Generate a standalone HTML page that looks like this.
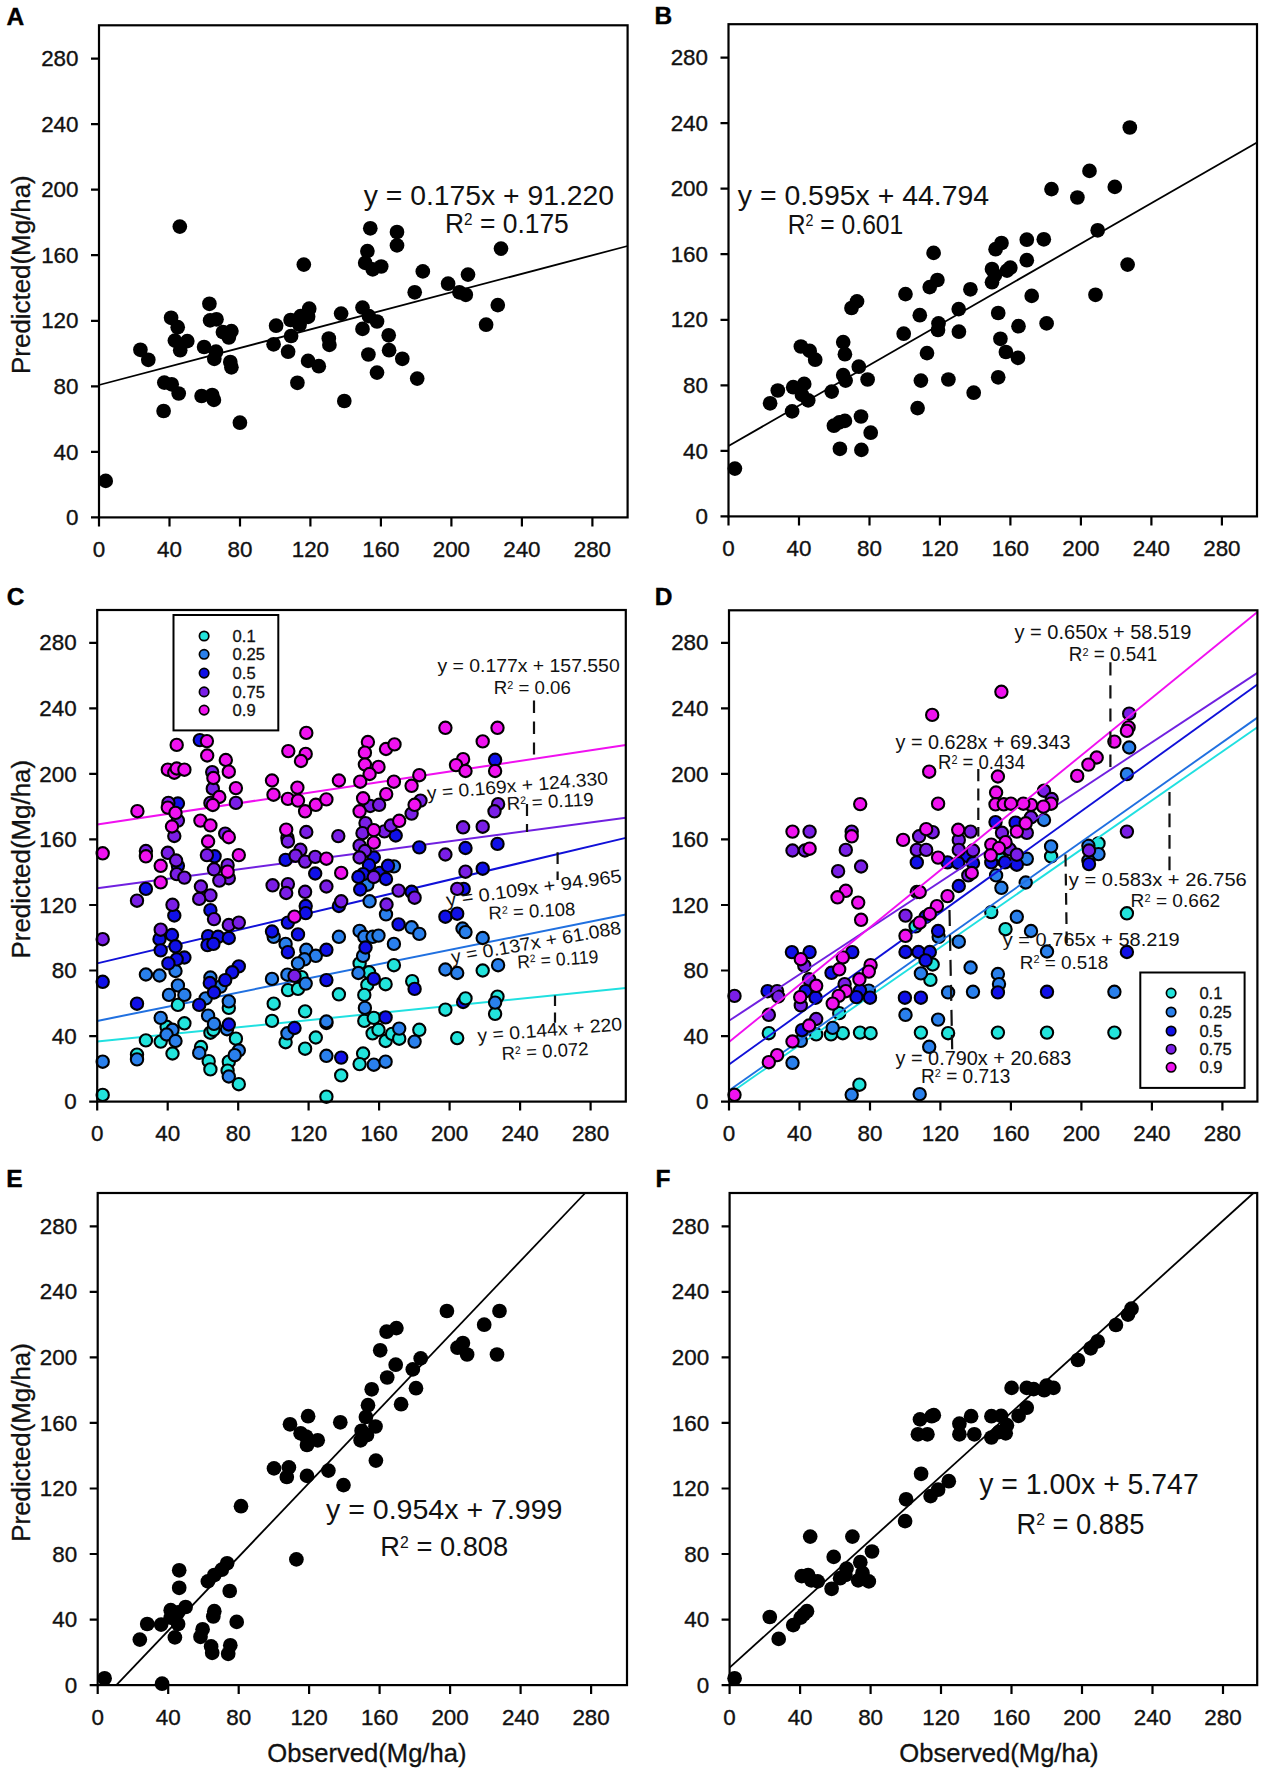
<!DOCTYPE html>
<html><head><meta charset="utf-8"><title>Figure</title>
<style>html,body{margin:0;padding:0;background:#fff;width:1267px;height:1772px;overflow:hidden}svg{display:block}</style>
</head><body>
<svg width="1267" height="1772" viewBox="0 0 1267 1772" font-family='"Liberation Sans", sans-serif'>
<rect width="1267" height="1772" fill="#fff"/>
<text x="6.5" y="24.5" font-size="24.5" font-weight="bold" fill="#000" stroke="#000" stroke-width="0.4">A</text>
<text x="654.5" y="24.3" font-size="24.5" font-weight="bold" fill="#000" stroke="#000" stroke-width="0.4">B</text>
<text x="6.8" y="605" font-size="24.5" font-weight="bold" fill="#000" stroke="#000" stroke-width="0.4">C</text>
<text x="654.8" y="604.5" font-size="24.5" font-weight="bold" fill="#000" stroke="#000" stroke-width="0.4">D</text>
<text x="6.3" y="1187" font-size="24.5" font-weight="bold" fill="#000" stroke="#000" stroke-width="0.4">E</text>
<text x="655.5" y="1187" font-size="24.5" font-weight="bold" fill="#000" stroke="#000" stroke-width="0.4">F</text>
<text x="0" y="0" font-size="25.9" fill="#111" stroke="#111" stroke-width="0.3" text-anchor="middle" transform="translate(30.4 274.6) rotate(-90)">Predicted(Mg/ha)</text>
<text x="0" y="0" font-size="25.9" fill="#111" stroke="#111" stroke-width="0.3" text-anchor="middle" transform="translate(30.4 859.2) rotate(-90)">Predicted(Mg/ha)</text>
<text x="0" y="0" font-size="25.9" fill="#111" stroke="#111" stroke-width="0.3" text-anchor="middle" transform="translate(30.4 1442.4) rotate(-90)">Predicted(Mg/ha)</text>
<text x="366.9" y="1762.3" font-size="25.6" fill="#111" stroke="#111" stroke-width="0.3" text-anchor="middle">Observed(Mg/ha)</text>
<text x="998.9" y="1762.3" font-size="25.6" fill="#111" stroke="#111" stroke-width="0.3" text-anchor="middle">Observed(Mg/ha)</text>
<line x1="99" y1="385" x2="627.6" y2="246" stroke="#000" stroke-width="1.8"/>
<g fill="#000"><circle cx="179.8" cy="226.6" r="7.35"/><circle cx="303.8" cy="264.6" r="7.35"/><circle cx="209.4" cy="303.8" r="7.35"/><circle cx="171.1" cy="317.8" r="7.35"/><circle cx="177.7" cy="327.2" r="7.35"/><circle cx="210.1" cy="320.4" r="7.35"/><circle cx="216.5" cy="319.3" r="7.35"/><circle cx="222.9" cy="332.1" r="7.35"/><circle cx="231.4" cy="331.1" r="7.35"/><circle cx="228.8" cy="337.5" r="7.35"/><circle cx="140.4" cy="349.8" r="7.35"/><circle cx="148.3" cy="359.8" r="7.35"/><circle cx="174.9" cy="340.6" r="7.35"/><circle cx="187.3" cy="341.1" r="7.35"/><circle cx="180.2" cy="350.2" r="7.35"/><circle cx="204.1" cy="347" r="7.35"/><circle cx="216" cy="351.7" r="7.35"/><circle cx="214.3" cy="358.8" r="7.35"/><circle cx="230.3" cy="362" r="7.35"/><circle cx="231.4" cy="367.3" r="7.35"/><circle cx="276.1" cy="325.7" r="7.35"/><circle cx="290.6" cy="320" r="7.35"/><circle cx="300.6" cy="316.1" r="7.35"/><circle cx="309.2" cy="308.7" r="7.35"/><circle cx="308.1" cy="316.8" r="7.35"/><circle cx="299.6" cy="324.7" r="7.35"/><circle cx="291.1" cy="336" r="7.35"/><circle cx="273.6" cy="344.3" r="7.35"/><circle cx="288.1" cy="351.7" r="7.35"/><circle cx="328.8" cy="338.5" r="7.35"/><circle cx="329.4" cy="344.9" r="7.35"/><circle cx="341.1" cy="313.6" r="7.35"/><circle cx="308.1" cy="360.9" r="7.35"/><circle cx="318.8" cy="366.2" r="7.35"/><circle cx="297.4" cy="382.8" r="7.35"/><circle cx="344.3" cy="401" r="7.35"/><circle cx="164.3" cy="382.6" r="7.35"/><circle cx="171.7" cy="384.3" r="7.35"/><circle cx="178.7" cy="393.5" r="7.35"/><circle cx="163.6" cy="411" r="7.35"/><circle cx="201.6" cy="396" r="7.35"/><circle cx="212.2" cy="395" r="7.35"/><circle cx="213.9" cy="399.9" r="7.35"/><circle cx="239.9" cy="422.7" r="7.35"/><circle cx="105.7" cy="480.9" r="7.35"/><circle cx="370.3" cy="228.3" r="7.35"/><circle cx="397" cy="232" r="7.35"/><circle cx="397" cy="245.4" r="7.35"/><circle cx="367.4" cy="251.1" r="7.35"/><circle cx="365.2" cy="262.9" r="7.35"/><circle cx="372.7" cy="269.3" r="7.35"/><circle cx="381.2" cy="266.5" r="7.35"/><circle cx="422.8" cy="271.4" r="7.35"/><circle cx="501" cy="248.6" r="7.35"/><circle cx="468" cy="274.6" r="7.35"/><circle cx="448.1" cy="283.7" r="7.35"/><circle cx="414.7" cy="292.3" r="7.35"/><circle cx="459.4" cy="292.3" r="7.35"/><circle cx="465.8" cy="294.8" r="7.35"/><circle cx="362.5" cy="307.6" r="7.35"/><circle cx="368.9" cy="316.1" r="7.35"/><circle cx="377" cy="321.5" r="7.35"/><circle cx="362.5" cy="328.9" r="7.35"/><circle cx="388.7" cy="335.3" r="7.35"/><circle cx="389.1" cy="350.2" r="7.35"/><circle cx="368.4" cy="354.5" r="7.35"/><circle cx="402.3" cy="358.8" r="7.35"/><circle cx="377" cy="372.6" r="7.35"/><circle cx="417.2" cy="378.6" r="7.35"/><circle cx="497.8" cy="305.1" r="7.35"/><circle cx="486.1" cy="324.7" r="7.35"/></g>
<text x="363.7" y="205.4" font-size="28.5" textLength="250.4" lengthAdjust="spacingAndGlyphs" fill="#111">y = 0.175x + 91.220</text>
<text x="445" y="232.5" font-size="28.5" textLength="123.8" lengthAdjust="spacingAndGlyphs" fill="#111">R<tspan font-size="16.5" dy="-8">2</tspan><tspan dy="8"> = 0.175</tspan></text>
<rect x="99" y="25.3" width="528.6" height="492.1" fill="none" stroke="#000" stroke-width="2.2"/>
<path d="M91 517.4H99M99 517.4V526.4M91 451.9H99M169.5 517.4V526.4M91 386.3H99M240 517.4V526.4M91 320.8H99M310.4 517.4V526.4M91 255.2H99M380.9 517.4V526.4M91 189.7H99M451.4 517.4V526.4M91 124.1H99M521.9 517.4V526.4M91 58.6H99M592.4 517.4V526.4" stroke="#000" stroke-width="2.2" fill="none"/>
<g font-family='"Liberation Sans", sans-serif' font-size="22.4" fill="#111" stroke="#111" stroke-width="0.35"><text x="78.5" y="525" text-anchor="end">0</text><text x="99" y="557" text-anchor="middle">0</text><text x="78.5" y="459.5" text-anchor="end">40</text><text x="169.5" y="557" text-anchor="middle">40</text><text x="78.5" y="393.9" text-anchor="end">80</text><text x="240" y="557" text-anchor="middle">80</text><text x="78.5" y="328.4" text-anchor="end">120</text><text x="310.4" y="557" text-anchor="middle">120</text><text x="78.5" y="262.8" text-anchor="end">160</text><text x="380.9" y="557" text-anchor="middle">160</text><text x="78.5" y="197.3" text-anchor="end">200</text><text x="451.4" y="557" text-anchor="middle">200</text><text x="78.5" y="131.7" text-anchor="end">240</text><text x="521.9" y="557" text-anchor="middle">240</text><text x="78.5" y="66.2" text-anchor="end">280</text><text x="592.4" y="557" text-anchor="middle">280</text></g>
<line x1="728.5" y1="446" x2="1257" y2="142.5" stroke="#000" stroke-width="1.8"/>
<g fill="#000"><circle cx="933.6" cy="252.9" r="7.35"/><circle cx="929.7" cy="287.1" r="7.35"/><circle cx="937.4" cy="280" r="7.35"/><circle cx="905.5" cy="294.1" r="7.35"/><circle cx="970.4" cy="289.3" r="7.35"/><circle cx="857" cy="301.4" r="7.35"/><circle cx="851.5" cy="308" r="7.35"/><circle cx="919.8" cy="315.2" r="7.35"/><circle cx="958.7" cy="309.1" r="7.35"/><circle cx="938.5" cy="323.4" r="7.35"/><circle cx="938" cy="330" r="7.35"/><circle cx="958.9" cy="331.7" r="7.35"/><circle cx="903.7" cy="333.7" r="7.35"/><circle cx="800.9" cy="346.5" r="7.35"/><circle cx="809.7" cy="350.9" r="7.35"/><circle cx="815.2" cy="359.7" r="7.35"/><circle cx="843.2" cy="342.1" r="7.35"/><circle cx="844.9" cy="354.2" r="7.35"/><circle cx="927" cy="353.1" r="7.35"/><circle cx="858.8" cy="366.7" r="7.35"/><circle cx="843.2" cy="375.1" r="7.35"/><circle cx="845.6" cy="380.6" r="7.35"/><circle cx="867.6" cy="379.5" r="7.35"/><circle cx="777.8" cy="390.5" r="7.35"/><circle cx="793.2" cy="387.2" r="7.35"/><circle cx="804.2" cy="383.9" r="7.35"/><circle cx="802" cy="394.9" r="7.35"/><circle cx="808.2" cy="400.4" r="7.35"/><circle cx="770.1" cy="403.3" r="7.35"/><circle cx="831.7" cy="391.6" r="7.35"/><circle cx="920.9" cy="380.6" r="7.35"/><circle cx="948.4" cy="379.5" r="7.35"/><circle cx="973.7" cy="392.7" r="7.35"/><circle cx="792.1" cy="411.4" r="7.35"/><circle cx="917.6" cy="408.1" r="7.35"/><circle cx="833.9" cy="425.7" r="7.35"/><circle cx="839.4" cy="422.4" r="7.35"/><circle cx="844.9" cy="420.9" r="7.35"/><circle cx="861" cy="416.5" r="7.35"/><circle cx="870.7" cy="432.7" r="7.35"/><circle cx="839.9" cy="448.8" r="7.35"/><circle cx="861.4" cy="449.9" r="7.35"/><circle cx="734.9" cy="468.6" r="7.35"/><circle cx="1129.8" cy="127.5" r="7.35"/><circle cx="1089.5" cy="170.9" r="7.35"/><circle cx="1051.5" cy="189.1" r="7.35"/><circle cx="1077.4" cy="197.5" r="7.35"/><circle cx="1114.8" cy="186.9" r="7.35"/><circle cx="1097.7" cy="230.3" r="7.35"/><circle cx="995.6" cy="249.2" r="7.35"/><circle cx="1001.5" cy="243" r="7.35"/><circle cx="1026.8" cy="239.7" r="7.35"/><circle cx="1043.8" cy="239.3" r="7.35"/><circle cx="1026.8" cy="260.2" r="7.35"/><circle cx="992" cy="269" r="7.35"/><circle cx="1010.3" cy="267.7" r="7.35"/><circle cx="1007" cy="270.6" r="7.35"/><circle cx="994.9" cy="275" r="7.35"/><circle cx="992" cy="282.2" r="7.35"/><circle cx="1127.6" cy="264.6" r="7.35"/><circle cx="1031.7" cy="295.9" r="7.35"/><circle cx="1095.5" cy="294.8" r="7.35"/><circle cx="998.2" cy="313" r="7.35"/><circle cx="1018.5" cy="326.2" r="7.35"/><circle cx="1046.6" cy="323.4" r="7.35"/><circle cx="1000.4" cy="338.8" r="7.35"/><circle cx="1005.9" cy="352" r="7.35"/><circle cx="1018" cy="357.9" r="7.35"/><circle cx="998.2" cy="377.3" r="7.35"/></g>
<text x="737.8" y="205.2" font-size="28.5" textLength="251.3" lengthAdjust="spacingAndGlyphs" fill="#111">y = 0.595x + 44.794</text>
<text x="787.7" y="234.2" font-size="28.5" textLength="115.6" lengthAdjust="spacingAndGlyphs" fill="#111">R<tspan font-size="16.5" dy="-8">2</tspan><tspan dy="8"> = 0.601</tspan></text>
<rect x="728.5" y="24.2" width="528.5" height="492.2" fill="none" stroke="#000" stroke-width="2.2"/>
<path d="M720.5 516.4H728.5M728.5 516.4V525.4M720.5 450.9H728.5M799 516.4V525.4M720.5 385.3H728.5M869.5 516.4V525.4M720.5 319.8H728.5M939.9 516.4V525.4M720.5 254.2H728.5M1010.4 516.4V525.4M720.5 188.7H728.5M1080.9 516.4V525.4M720.5 123.1H728.5M1151.4 516.4V525.4M720.5 57.6H728.5M1221.9 516.4V525.4" stroke="#000" stroke-width="2.2" fill="none"/>
<g font-family='"Liberation Sans", sans-serif' font-size="22.4" fill="#111" stroke="#111" stroke-width="0.35"><text x="708" y="524" text-anchor="end">0</text><text x="728.5" y="556" text-anchor="middle">0</text><text x="708" y="458.5" text-anchor="end">40</text><text x="799" y="556" text-anchor="middle">40</text><text x="708" y="392.9" text-anchor="end">80</text><text x="869.5" y="556" text-anchor="middle">80</text><text x="708" y="327.4" text-anchor="end">120</text><text x="939.9" y="556" text-anchor="middle">120</text><text x="708" y="261.8" text-anchor="end">160</text><text x="1010.4" y="556" text-anchor="middle">160</text><text x="708" y="196.3" text-anchor="end">200</text><text x="1080.9" y="556" text-anchor="middle">200</text><text x="708" y="130.7" text-anchor="end">240</text><text x="1151.4" y="556" text-anchor="middle">240</text><text x="708" y="65.2" text-anchor="end">280</text><text x="1221.9" y="556" text-anchor="middle">280</text></g>
<line x1="97.2" y1="1041.6" x2="625.8" y2="988" stroke="#20e0e0" stroke-width="2.0"/>
<line x1="97.2" y1="1020.9" x2="625.8" y2="914.5" stroke="#2070e0" stroke-width="2.0"/>
<line x1="97.2" y1="963.4" x2="625.8" y2="837.9" stroke="#1010d8" stroke-width="2.0"/>
<line x1="97.2" y1="888.3" x2="625.8" y2="817.7" stroke="#7020e0" stroke-width="2.0"/>
<line x1="97.2" y1="824.5" x2="625.8" y2="745" stroke="#f010f0" stroke-width="2.0"/>
<g fill="#22e4dc" stroke="#000" stroke-width="2.1"></g>
<g fill="#2a80ec" stroke="#000" stroke-width="2.1"></g>
<g fill="#1010e8" stroke="#000" stroke-width="2.1"><circle cx="326.4" cy="1023" r="6.15"/><circle cx="463.1" cy="1002" r="6.15"/></g>
<g fill="#7a1ee6" stroke="#000" stroke-width="2.1"></g>
<g fill="#f012f0" stroke="#000" stroke-width="2.1"></g>
<g fill="#22e4dc" stroke="#000" stroke-width="2.1"><circle cx="359.6" cy="963.4" r="6.15"/><circle cx="369" cy="972.3" r="6.15"/><circle cx="393.9" cy="965.2" r="6.15"/><circle cx="482.7" cy="970.5" r="6.15"/><circle cx="177.9" cy="1004.9" r="6.15"/><circle cx="184.4" cy="1023.3" r="6.15"/><circle cx="166.6" cy="1026.8" r="6.15"/><circle cx="145.9" cy="1040.4" r="6.15"/><circle cx="160.7" cy="1041.6" r="6.15"/><circle cx="172.5" cy="1053.5" r="6.15"/><circle cx="137" cy="1054.6" r="6.15"/><circle cx="102.7" cy="1094.9" r="6.15"/><circle cx="228.8" cy="1007.9" r="6.15"/><circle cx="210.4" cy="1032.7" r="6.15"/><circle cx="213.4" cy="1029.8" r="6.15"/><circle cx="235.9" cy="1038.7" r="6.15"/><circle cx="201" cy="1047" r="6.15"/><circle cx="208.7" cy="1061.2" r="6.15"/><circle cx="210.4" cy="1069.4" r="6.15"/><circle cx="228.8" cy="1061.7" r="6.15"/><circle cx="227.6" cy="1070.6" r="6.15"/><circle cx="238.8" cy="1084.2" r="6.15"/><circle cx="301.6" cy="977.1" r="6.15"/><circle cx="288" cy="990.1" r="6.15"/><circle cx="298" cy="988.9" r="6.15"/><circle cx="338.9" cy="994.3" r="6.15"/><circle cx="273.7" cy="1003.7" r="6.15"/><circle cx="305.1" cy="1011.4" r="6.15"/><circle cx="272" cy="1020.9" r="6.15"/><circle cx="285.6" cy="1042.2" r="6.15"/><circle cx="315.8" cy="1037.5" r="6.15"/><circle cx="305.1" cy="1048.7" r="6.15"/><circle cx="341.2" cy="1075.4" r="6.15"/><circle cx="326.4" cy="1096.7" r="6.15"/><circle cx="385.6" cy="984.2" r="6.15"/><circle cx="367.3" cy="984.8" r="6.15"/><circle cx="364.3" cy="994.9" r="6.15"/><circle cx="364.3" cy="1020.9" r="6.15"/><circle cx="373.8" cy="1017.9" r="6.15"/><circle cx="372.6" cy="1033.3" r="6.15"/><circle cx="378.5" cy="1029.8" r="6.15"/><circle cx="385.6" cy="1041" r="6.15"/><circle cx="363.1" cy="1053.5" r="6.15"/><circle cx="359.6" cy="1064.1" r="6.15"/><circle cx="412.2" cy="981.2" r="6.15"/><circle cx="465.5" cy="998.4" r="6.15"/><circle cx="445.4" cy="1009.7" r="6.15"/><circle cx="497.5" cy="996.6" r="6.15"/><circle cx="495.1" cy="1013.8" r="6.15"/><circle cx="392.1" cy="1033.9" r="6.15"/><circle cx="399.2" cy="1038.7" r="6.15"/><circle cx="419.3" cy="1029.8" r="6.15"/><circle cx="457.2" cy="1038.1" r="6.15"/></g>
<g fill="#2a80ec" stroke="#000" stroke-width="2.1"><circle cx="175.5" cy="971" r="6.15"/><circle cx="145.9" cy="974.5" r="6.15"/><circle cx="159.5" cy="975.5" r="6.15"/><circle cx="273.7" cy="936.8" r="6.15"/><circle cx="285.6" cy="943.9" r="6.15"/><circle cx="306.3" cy="949.8" r="6.15"/><circle cx="315.8" cy="955.8" r="6.15"/><circle cx="304.5" cy="959.3" r="6.15"/><circle cx="298" cy="963.4" r="6.15"/><circle cx="338.9" cy="936.8" r="6.15"/><circle cx="367.3" cy="884.7" r="6.15"/><circle cx="369.6" cy="901.3" r="6.15"/><circle cx="386" cy="914.3" r="6.15"/><circle cx="359.6" cy="930.9" r="6.15"/><circle cx="364.3" cy="936.8" r="6.15"/><circle cx="372.6" cy="936.8" r="6.15"/><circle cx="378.5" cy="935.6" r="6.15"/><circle cx="363.1" cy="955.8" r="6.15"/><circle cx="358.4" cy="973" r="6.15"/><circle cx="393.9" cy="866.4" r="6.15"/><circle cx="411.6" cy="927.3" r="6.15"/><circle cx="419.3" cy="933.9" r="6.15"/><circle cx="462.5" cy="928.5" r="6.15"/><circle cx="465.5" cy="932.1" r="6.15"/><circle cx="482.7" cy="938" r="6.15"/><circle cx="393.9" cy="943.9" r="6.15"/><circle cx="445.4" cy="969.5" r="6.15"/><circle cx="457.2" cy="973" r="6.15"/><circle cx="498.1" cy="965.2" r="6.15"/><circle cx="177.9" cy="985.4" r="6.15"/><circle cx="169" cy="994.9" r="6.15"/><circle cx="184.4" cy="994.9" r="6.15"/><circle cx="160.7" cy="1017.9" r="6.15"/><circle cx="172.5" cy="1029.8" r="6.15"/><circle cx="166.6" cy="1034.5" r="6.15"/><circle cx="175.5" cy="1041" r="6.15"/><circle cx="102.7" cy="1061.7" r="6.15"/><circle cx="137" cy="1059.4" r="6.15"/><circle cx="210.4" cy="977.5" r="6.15"/><circle cx="220.5" cy="986.6" r="6.15"/><circle cx="205.7" cy="998.4" r="6.15"/><circle cx="228.8" cy="1001.4" r="6.15"/><circle cx="208.1" cy="1015.6" r="6.15"/><circle cx="214" cy="1023.9" r="6.15"/><circle cx="227" cy="1029.2" r="6.15"/><circle cx="238.8" cy="1050.5" r="6.15"/><circle cx="234.7" cy="1055.2" r="6.15"/><circle cx="199.2" cy="1052.9" r="6.15"/><circle cx="228.8" cy="1076.5" r="6.15"/><circle cx="272" cy="978.9" r="6.15"/><circle cx="287.4" cy="974.7" r="6.15"/><circle cx="305.7" cy="983.6" r="6.15"/><circle cx="326.4" cy="1021.5" r="6.15"/><circle cx="287.4" cy="1033.3" r="6.15"/><circle cx="326.4" cy="1055.8" r="6.15"/><circle cx="364.9" cy="1007.9" r="6.15"/><circle cx="373.8" cy="1064.7" r="6.15"/><circle cx="385.6" cy="1061.7" r="6.15"/><circle cx="495.1" cy="1002.6" r="6.15"/><circle cx="399.2" cy="1028.6" r="6.15"/><circle cx="414.6" cy="1041.6" r="6.15"/></g>
<g fill="#1010e8" stroke="#000" stroke-width="2.1"><circle cx="199.8" cy="740.1" r="6.15"/><circle cx="177.9" cy="803.5" r="6.15"/><circle cx="495.1" cy="759.8" r="6.15"/><circle cx="395.7" cy="835.5" r="6.15"/><circle cx="177.9" cy="865.8" r="6.15"/><circle cx="145.9" cy="888.9" r="6.15"/><circle cx="174.3" cy="915.5" r="6.15"/><circle cx="214.6" cy="856.3" r="6.15"/><circle cx="210.4" cy="910.2" r="6.15"/><circle cx="172" cy="935" r="6.15"/><circle cx="159.5" cy="939.2" r="6.15"/><circle cx="175.5" cy="946.3" r="6.15"/><circle cx="160.7" cy="950.4" r="6.15"/><circle cx="184.4" cy="957.5" r="6.15"/><circle cx="176.7" cy="959.3" r="6.15"/><circle cx="168.4" cy="963.4" r="6.15"/><circle cx="208.1" cy="936.2" r="6.15"/><circle cx="218.1" cy="936.8" r="6.15"/><circle cx="228.8" cy="938" r="6.15"/><circle cx="207.5" cy="945.1" r="6.15"/><circle cx="213.4" cy="943.9" r="6.15"/><circle cx="238.8" cy="966.4" r="6.15"/><circle cx="232.3" cy="972.3" r="6.15"/><circle cx="285.6" cy="859.9" r="6.15"/><circle cx="315.2" cy="873.5" r="6.15"/><circle cx="338.9" cy="906" r="6.15"/><circle cx="305.7" cy="906" r="6.15"/><circle cx="305.7" cy="913.1" r="6.15"/><circle cx="287.9" cy="922.6" r="6.15"/><circle cx="272" cy="931.5" r="6.15"/><circle cx="298" cy="934.4" r="6.15"/><circle cx="287.9" cy="952.2" r="6.15"/><circle cx="326.4" cy="949.8" r="6.15"/><circle cx="373.8" cy="857.5" r="6.15"/><circle cx="369" cy="865.2" r="6.15"/><circle cx="363.1" cy="874.1" r="6.15"/><circle cx="358.4" cy="877" r="6.15"/><circle cx="379.7" cy="872.9" r="6.15"/><circle cx="386" cy="879" r="6.15"/><circle cx="360.2" cy="889.5" r="6.15"/><circle cx="365.5" cy="947.5" r="6.15"/><circle cx="388" cy="865.8" r="6.15"/><circle cx="419.3" cy="847.4" r="6.15"/><circle cx="465.5" cy="848" r="6.15"/><circle cx="497.5" cy="843.9" r="6.15"/><circle cx="482.7" cy="868.7" r="6.15"/><circle cx="411.6" cy="891.8" r="6.15"/><circle cx="463.7" cy="888.9" r="6.15"/><circle cx="445.4" cy="916.7" r="6.15"/><circle cx="457.2" cy="913.7" r="6.15"/><circle cx="398.6" cy="924.4" r="6.15"/><circle cx="102.7" cy="981.8" r="6.15"/><circle cx="137" cy="1003.7" r="6.15"/><circle cx="209.8" cy="983" r="6.15"/><circle cx="225.2" cy="980.1" r="6.15"/><circle cx="214" cy="992.5" r="6.15"/><circle cx="199.2" cy="1004.9" r="6.15"/><circle cx="228.8" cy="1024.5" r="6.15"/><circle cx="326.4" cy="980.1" r="6.15"/><circle cx="294.5" cy="1028" r="6.15"/><circle cx="341.2" cy="1057.6" r="6.15"/><circle cx="373.8" cy="978.9" r="6.15"/><circle cx="385.6" cy="1017.4" r="6.15"/><circle cx="414.6" cy="988.9" r="6.15"/></g>
<g fill="#7a1ee6" stroke="#000" stroke-width="2.1"><circle cx="212.2" cy="772.1" r="6.15"/><circle cx="212.8" cy="788.7" r="6.15"/><circle cx="235.9" cy="802.9" r="6.15"/><circle cx="210.4" cy="802.9" r="6.15"/><circle cx="168.4" cy="802.9" r="6.15"/><circle cx="177.9" cy="820.6" r="6.15"/><circle cx="174.3" cy="836" r="6.15"/><circle cx="225.2" cy="833.6" r="6.15"/><circle cx="370.2" cy="806" r="6.15"/><circle cx="379.1" cy="804.8" r="6.15"/><circle cx="365.5" cy="823.1" r="6.15"/><circle cx="362.5" cy="833.2" r="6.15"/><circle cx="384.4" cy="831.4" r="6.15"/><circle cx="306.3" cy="832" r="6.15"/><circle cx="338.3" cy="836.1" r="6.15"/><circle cx="287.4" cy="837.9" r="6.15"/><circle cx="420.5" cy="800.6" r="6.15"/><circle cx="411.6" cy="813.6" r="6.15"/><circle cx="390.9" cy="825.5" r="6.15"/><circle cx="498.1" cy="804.2" r="6.15"/><circle cx="494.5" cy="811.3" r="6.15"/><circle cx="463.1" cy="827.3" r="6.15"/><circle cx="482.7" cy="826.7" r="6.15"/><circle cx="145.9" cy="851" r="6.15"/><circle cx="167.8" cy="852.8" r="6.15"/><circle cx="176.1" cy="860.5" r="6.15"/><circle cx="176.7" cy="874.1" r="6.15"/><circle cx="184.4" cy="877.6" r="6.15"/><circle cx="137" cy="900.7" r="6.15"/><circle cx="172.5" cy="904.8" r="6.15"/><circle cx="206.9" cy="855.1" r="6.15"/><circle cx="214" cy="869.3" r="6.15"/><circle cx="227.6" cy="865.2" r="6.15"/><circle cx="228.8" cy="878.2" r="6.15"/><circle cx="219.3" cy="880.6" r="6.15"/><circle cx="200.9" cy="886.5" r="6.15"/><circle cx="210.4" cy="895.4" r="6.15"/><circle cx="199.2" cy="898.9" r="6.15"/><circle cx="214" cy="919.1" r="6.15"/><circle cx="228.8" cy="925" r="6.15"/><circle cx="238.8" cy="922.6" r="6.15"/><circle cx="102.7" cy="939.2" r="6.15"/><circle cx="160.7" cy="929.7" r="6.15"/><circle cx="287.9" cy="841.5" r="6.15"/><circle cx="300.4" cy="849.8" r="6.15"/><circle cx="295.6" cy="855.7" r="6.15"/><circle cx="305.1" cy="861.6" r="6.15"/><circle cx="315.2" cy="856.9" r="6.15"/><circle cx="272.6" cy="885.3" r="6.15"/><circle cx="287.9" cy="884.1" r="6.15"/><circle cx="286.2" cy="893" r="6.15"/><circle cx="305.1" cy="891.8" r="6.15"/><circle cx="326.4" cy="886.5" r="6.15"/><circle cx="341.2" cy="901.3" r="6.15"/><circle cx="359.6" cy="845.7" r="6.15"/><circle cx="364.9" cy="851" r="6.15"/><circle cx="359.6" cy="857.5" r="6.15"/><circle cx="373.8" cy="877" r="6.15"/><circle cx="386.5" cy="904.5" r="6.15"/><circle cx="445.4" cy="854.5" r="6.15"/><circle cx="465.5" cy="871.7" r="6.15"/><circle cx="398.6" cy="890.6" r="6.15"/><circle cx="414.6" cy="897.7" r="6.15"/><circle cx="457.2" cy="888.9" r="6.15"/><circle cx="294.5" cy="975.9" r="6.15"/></g>
<g fill="#f012f0" stroke="#000" stroke-width="2.1"><circle cx="176.7" cy="744.9" r="6.15"/><circle cx="206.9" cy="741.1" r="6.15"/><circle cx="207.2" cy="755.5" r="6.15"/><circle cx="225.8" cy="760" r="6.15"/><circle cx="228.8" cy="771.7" r="6.15"/><circle cx="167.8" cy="769.7" r="6.15"/><circle cx="174.3" cy="772.7" r="6.15"/><circle cx="176.7" cy="768.5" r="6.15"/><circle cx="184.4" cy="769.7" r="6.15"/><circle cx="213.4" cy="778" r="6.15"/><circle cx="219.3" cy="797" r="6.15"/><circle cx="235.9" cy="788.1" r="6.15"/><circle cx="212.8" cy="805" r="6.15"/><circle cx="137.4" cy="811.2" r="6.15"/><circle cx="167.8" cy="807.6" r="6.15"/><circle cx="175.5" cy="812.9" r="6.15"/><circle cx="172" cy="826.5" r="6.15"/><circle cx="200.4" cy="820.6" r="6.15"/><circle cx="210.4" cy="825.4" r="6.15"/><circle cx="228.8" cy="837.2" r="6.15"/><circle cx="208.1" cy="841.5" r="6.15"/><circle cx="306.3" cy="732.9" r="6.15"/><circle cx="288.3" cy="751.1" r="6.15"/><circle cx="305.7" cy="753.9" r="6.15"/><circle cx="301" cy="761" r="6.15"/><circle cx="272" cy="780.5" r="6.15"/><circle cx="273.5" cy="794.7" r="6.15"/><circle cx="297.4" cy="787.6" r="6.15"/><circle cx="287.9" cy="798.9" r="6.15"/><circle cx="298" cy="800.6" r="6.15"/><circle cx="305.1" cy="811.3" r="6.15"/><circle cx="315.8" cy="804.8" r="6.15"/><circle cx="326.4" cy="799.4" r="6.15"/><circle cx="338.9" cy="780.5" r="6.15"/><circle cx="367.9" cy="742" r="6.15"/><circle cx="364.9" cy="752.7" r="6.15"/><circle cx="364.9" cy="764.5" r="6.15"/><circle cx="378.5" cy="766.9" r="6.15"/><circle cx="369.6" cy="774" r="6.15"/><circle cx="360.2" cy="781.7" r="6.15"/><circle cx="386" cy="749" r="6.15"/><circle cx="363.1" cy="798.3" r="6.15"/><circle cx="359.6" cy="811.3" r="6.15"/><circle cx="386.2" cy="794.1" r="6.15"/><circle cx="373.8" cy="830.2" r="6.15"/><circle cx="286.2" cy="829.6" r="6.15"/><circle cx="445.4" cy="727.8" r="6.15"/><circle cx="497.5" cy="727.8" r="6.15"/><circle cx="482.7" cy="741.4" r="6.15"/><circle cx="394.5" cy="744.4" r="6.15"/><circle cx="463.1" cy="759.2" r="6.15"/><circle cx="456" cy="765.1" r="6.15"/><circle cx="465.5" cy="771" r="6.15"/><circle cx="495.1" cy="771" r="6.15"/><circle cx="419.3" cy="775.2" r="6.15"/><circle cx="393.9" cy="781.7" r="6.15"/><circle cx="411.6" cy="785.8" r="6.15"/><circle cx="414.6" cy="804.8" r="6.15"/><circle cx="399.2" cy="820.8" r="6.15"/><circle cx="102.7" cy="853.3" r="6.15"/><circle cx="145.9" cy="856.3" r="6.15"/><circle cx="160.7" cy="865.8" r="6.15"/><circle cx="160.7" cy="882.4" r="6.15"/><circle cx="238.8" cy="855.1" r="6.15"/><circle cx="227.6" cy="871.7" r="6.15"/><circle cx="326.4" cy="858.7" r="6.15"/><circle cx="341.2" cy="872.9" r="6.15"/><circle cx="294.5" cy="916.7" r="6.15"/><circle cx="373.8" cy="842.7" r="6.15"/></g>
<rect x="173.5" y="615" width="104.8" height="115.4" fill="#fff" stroke="#000" stroke-width="2"/>
<circle cx="204.1" cy="636" r="4.7" fill="#22e4dc" stroke="#000" stroke-width="1.7"/>
<text x="232.6" y="641.6" font-size="16.6" fill="#111" stroke="#111" stroke-width="0.3">0.1</text>
<circle cx="204.1" cy="654.3" r="4.7" fill="#2a80ec" stroke="#000" stroke-width="1.7"/>
<text x="232.6" y="659.9" font-size="16.6" fill="#111" stroke="#111" stroke-width="0.3">0.25</text>
<circle cx="204.1" cy="673.1" r="4.7" fill="#1010e8" stroke="#000" stroke-width="1.7"/>
<text x="232.6" y="678.7" font-size="16.6" fill="#111" stroke="#111" stroke-width="0.3">0.5</text>
<circle cx="204.1" cy="691.9" r="4.7" fill="#7a1ee6" stroke="#000" stroke-width="1.7"/>
<text x="232.6" y="697.5" font-size="16.6" fill="#111" stroke="#111" stroke-width="0.3">0.75</text>
<circle cx="204.1" cy="710.1" r="4.7" fill="#f012f0" stroke="#000" stroke-width="1.7"/>
<text x="232.6" y="715.7" font-size="16.6" fill="#111" stroke="#111" stroke-width="0.3">0.9</text>
<text x="437.4" y="671.8" font-size="18.5" textLength="182.3" lengthAdjust="spacingAndGlyphs" fill="#111">y = 0.177x + 157.550</text>
<text x="493.8" y="693.9" font-size="18.5" textLength="77" lengthAdjust="spacingAndGlyphs" fill="#111">R<tspan font-size="10.7" dy="-5.2">2</tspan><tspan dy="5.2"> = 0.06</tspan></text>
<line x1="534" y1="700.5" x2="534" y2="754.4" stroke="#111" stroke-width="2.2" stroke-dasharray="12.5 8.5"/>
<text x="427.5" y="799.5" font-size="18.5" textLength="181.5" lengthAdjust="spacingAndGlyphs" transform="rotate(-4.8 427.5 799.5)" fill="#111">y = 0.169x + 124.330</text>
<text x="507" y="810" font-size="18.5" textLength="87" lengthAdjust="spacingAndGlyphs" transform="rotate(-3 507 810)" fill="#111">R<tspan font-size="10.7" dy="-5.2">2</tspan><tspan dy="5.2"> = 0.119</tspan></text>
<line x1="527" y1="804" x2="527" y2="832" stroke="#111" stroke-width="2.2" stroke-dasharray="12 8"/>
<text x="447" y="906.5" font-size="18.5" textLength="177" lengthAdjust="spacingAndGlyphs" transform="rotate(-8 447 906.5)" fill="#111">y = 0.109x + 94.965</text>
<text x="488.8" y="919.5" font-size="18.5" textLength="87" lengthAdjust="spacingAndGlyphs" transform="rotate(-2.8 488.8 919.5)" fill="#111">R<tspan font-size="10.7" dy="-5.2">2</tspan><tspan dy="5.2"> = 0.108</tspan></text>
<line x1="557.6" y1="852.3" x2="557.6" y2="880" stroke="#111" stroke-width="2.2" stroke-dasharray="11.7 7.4"/>
<text x="452.3" y="963.5" font-size="18.5" textLength="172.2" lengthAdjust="spacingAndGlyphs" transform="rotate(-10 452.3 963.5)" fill="#111">y = 0.137x + 61.088</text>
<text x="517.8" y="968.4" font-size="18.5" textLength="81.2" lengthAdjust="spacingAndGlyphs" transform="rotate(-4 517.8 968.4)" fill="#111">R<tspan font-size="10.7" dy="-5.2">2</tspan><tspan dy="5.2"> = 0.119</tspan></text>
<text x="478" y="1042" font-size="18.5" textLength="145" lengthAdjust="spacingAndGlyphs" transform="rotate(-4.7 478 1042)" fill="#111">y = 0.144x + 220</text>
<text x="502" y="1060" font-size="18.5" textLength="87" lengthAdjust="spacingAndGlyphs" transform="rotate(-3.3 502 1060)" fill="#111">R<tspan font-size="10.7" dy="-5.2">2</tspan><tspan dy="5.2"> = 0.072</tspan></text>
<line x1="555" y1="995.6" x2="555" y2="1023.8" stroke="#111" stroke-width="2.2" stroke-dasharray="10.4 6.4"/>
<rect x="97.2" y="610" width="528.6" height="491.6" fill="none" stroke="#000" stroke-width="2.2"/>
<path d="M89.2 1101.6H97.2M97.2 1101.6V1110.6M89.2 1036.1H97.2M167.7 1101.6V1110.6M89.2 970.5H97.2M238.2 1101.6V1110.6M89.2 905H97.2M308.6 1101.6V1110.6M89.2 839.4H97.2M379.1 1101.6V1110.6M89.2 773.9H97.2M449.6 1101.6V1110.6M89.2 708.3H97.2M520.1 1101.6V1110.6M89.2 642.8H97.2M590.6 1101.6V1110.6" stroke="#000" stroke-width="2.2" fill="none"/>
<g font-family='"Liberation Sans", sans-serif' font-size="22.4" fill="#111" stroke="#111" stroke-width="0.35"><text x="76.7" y="1109.2" text-anchor="end">0</text><text x="97.2" y="1141.2" text-anchor="middle">0</text><text x="76.7" y="1043.7" text-anchor="end">40</text><text x="167.7" y="1141.2" text-anchor="middle">40</text><text x="76.7" y="978.1" text-anchor="end">80</text><text x="238.2" y="1141.2" text-anchor="middle">80</text><text x="76.7" y="912.6" text-anchor="end">120</text><text x="308.6" y="1141.2" text-anchor="middle">120</text><text x="76.7" y="847" text-anchor="end">160</text><text x="379.1" y="1141.2" text-anchor="middle">160</text><text x="76.7" y="781.5" text-anchor="end">200</text><text x="449.6" y="1141.2" text-anchor="middle">200</text><text x="76.7" y="715.9" text-anchor="end">240</text><text x="520.1" y="1141.2" text-anchor="middle">240</text><text x="76.7" y="650.4" text-anchor="end">280</text><text x="590.6" y="1141.2" text-anchor="middle">280</text></g>
<g fill="#22e4dc" stroke="#000" stroke-width="2.1"><circle cx="915.6" cy="926.3" r="6.15"/><circle cx="991.3" cy="912.1" r="6.15"/><circle cx="1005.5" cy="929.2" r="6.15"/><circle cx="1000.2" cy="858.8" r="6.15"/><circle cx="1051.1" cy="856.4" r="6.15"/><circle cx="1098.5" cy="843.4" r="6.15"/><circle cx="1126.9" cy="913.3" r="6.15"/><circle cx="768.8" cy="1033.2" r="6.15"/><circle cx="816.2" cy="1034.4" r="6.15"/><circle cx="839.2" cy="1013.1" r="6.15"/><circle cx="842.8" cy="1033.2" r="6.15"/><circle cx="831" cy="1034.4" r="6.15"/><circle cx="860" cy="1032.6" r="6.15"/><circle cx="870.6" cy="1033.2" r="6.15"/><circle cx="859.4" cy="1084.7" r="6.15"/><circle cx="932.7" cy="964.5" r="6.15"/><circle cx="930.4" cy="979.9" r="6.15"/><circle cx="920.9" cy="1032.6" r="6.15"/><circle cx="948.1" cy="1033.2" r="6.15"/><circle cx="997.9" cy="1032.6" r="6.15"/><circle cx="1047" cy="1032.6" r="6.15"/><circle cx="1114.4" cy="1032.6" r="6.15"/></g>
<line x1="729" y1="1094" x2="1257.4" y2="727.2" stroke="#20e0e0" stroke-width="1.9"/>
<g fill="#2a80ec" stroke="#000" stroke-width="2.1"><circle cx="1129.2" cy="747.5" r="6.15"/><circle cx="1126.9" cy="774.1" r="6.15"/><circle cx="1044" cy="820" r="6.15"/><circle cx="938.7" cy="936.9" r="6.15"/><circle cx="958.8" cy="941.7" r="6.15"/><circle cx="1016.8" cy="916.8" r="6.15"/><circle cx="996.1" cy="875.4" r="6.15"/><circle cx="1001.4" cy="887.8" r="6.15"/><circle cx="1026.8" cy="858.8" r="6.15"/><circle cx="1051.1" cy="846.4" r="6.15"/><circle cx="1025.7" cy="882.5" r="6.15"/><circle cx="1088.4" cy="845.8" r="6.15"/><circle cx="1098.5" cy="854.1" r="6.15"/><circle cx="1088.4" cy="860.6" r="6.15"/><circle cx="1031" cy="931" r="6.15"/><circle cx="1047" cy="951.5" r="6.15"/><circle cx="800.8" cy="1040.9" r="6.15"/><circle cx="792.5" cy="1062.8" r="6.15"/><circle cx="868.8" cy="990.6" r="6.15"/><circle cx="832.7" cy="1027.9" r="6.15"/><circle cx="851.7" cy="1094.8" r="6.15"/><circle cx="920.9" cy="973.4" r="6.15"/><circle cx="970.6" cy="967.5" r="6.15"/><circle cx="997.9" cy="974" r="6.15"/><circle cx="999" cy="984.1" r="6.15"/><circle cx="948.1" cy="992.4" r="6.15"/><circle cx="973" cy="991.8" r="6.15"/><circle cx="905.5" cy="1014.8" r="6.15"/><circle cx="938.1" cy="1019.6" r="6.15"/><circle cx="929.2" cy="1046.8" r="6.15"/><circle cx="919.7" cy="1094.2" r="6.15"/><circle cx="1114.4" cy="991.8" r="6.15"/></g>
<line x1="729" y1="1090.5" x2="1257.4" y2="717.6" stroke="#2070e0" stroke-width="1.9"/>
<g fill="#1010e8" stroke="#000" stroke-width="2.1"><circle cx="916.8" cy="862.4" r="6.15"/><circle cx="947.5" cy="862.4" r="6.15"/><circle cx="967.1" cy="855.8" r="6.15"/><circle cx="958.2" cy="863" r="6.15"/><circle cx="973" cy="863" r="6.15"/><circle cx="958.8" cy="886" r="6.15"/><circle cx="925.6" cy="916.8" r="6.15"/><circle cx="938.1" cy="931" r="6.15"/><circle cx="905.5" cy="952" r="6.15"/><circle cx="918.5" cy="952" r="6.15"/><circle cx="929.8" cy="952" r="6.15"/><circle cx="995.5" cy="822.1" r="6.15"/><circle cx="1015.6" cy="822.7" r="6.15"/><circle cx="991.3" cy="862.4" r="6.15"/><circle cx="1005" cy="862.4" r="6.15"/><circle cx="1016.8" cy="864.7" r="6.15"/><circle cx="1089" cy="864.1" r="6.15"/><circle cx="1126.9" cy="952" r="6.15"/><circle cx="791.9" cy="952.1" r="6.15"/><circle cx="809.6" cy="952.1" r="6.15"/><circle cx="852.3" cy="952.1" r="6.15"/><circle cx="831.5" cy="972.8" r="6.15"/><circle cx="767.6" cy="991.2" r="6.15"/><circle cx="805.5" cy="991.2" r="6.15"/><circle cx="815.6" cy="997.7" r="6.15"/><circle cx="802" cy="1030.2" r="6.15"/><circle cx="860" cy="990.6" r="6.15"/><circle cx="856.4" cy="997.1" r="6.15"/><circle cx="870" cy="997.7" r="6.15"/><circle cx="925.6" cy="960.4" r="6.15"/><circle cx="997.9" cy="992.4" r="6.15"/><circle cx="904.9" cy="997.7" r="6.15"/><circle cx="920.9" cy="997.7" r="6.15"/><circle cx="1047" cy="991.8" r="6.15"/></g>
<line x1="729" y1="1064.6" x2="1257.4" y2="684.6" stroke="#1010d8" stroke-width="1.9"/>
<g fill="#7a1ee6" stroke="#000" stroke-width="2.1"><circle cx="1129.2" cy="713.7" r="6.15"/><circle cx="1044" cy="790.7" r="6.15"/><circle cx="1051.7" cy="799" r="6.15"/><circle cx="1031" cy="817.3" r="6.15"/><circle cx="809.6" cy="831.6" r="6.15"/><circle cx="792.5" cy="850.5" r="6.15"/><circle cx="804.9" cy="850.5" r="6.15"/><circle cx="851.7" cy="831.6" r="6.15"/><circle cx="845.8" cy="849.9" r="6.15"/><circle cx="838.1" cy="871.2" r="6.15"/><circle cx="861.1" cy="866.5" r="6.15"/><circle cx="919.1" cy="836.3" r="6.15"/><circle cx="932.7" cy="832.2" r="6.15"/><circle cx="916.8" cy="849.9" r="6.15"/><circle cx="926.2" cy="849.9" r="6.15"/><circle cx="970.6" cy="831.6" r="6.15"/><circle cx="958.8" cy="839.9" r="6.15"/><circle cx="958.8" cy="849.9" r="6.15"/><circle cx="973" cy="850.5" r="6.15"/><circle cx="968.3" cy="875.4" r="6.15"/><circle cx="916.8" cy="892" r="6.15"/><circle cx="905.5" cy="915.6" r="6.15"/><circle cx="1002" cy="832.8" r="6.15"/><circle cx="1009.7" cy="849.3" r="6.15"/><circle cx="1016.8" cy="854.7" r="6.15"/><circle cx="1026.8" cy="832.8" r="6.15"/><circle cx="1126.9" cy="831.6" r="6.15"/><circle cx="1089" cy="850.5" r="6.15"/><circle cx="804.3" cy="965.7" r="6.15"/><circle cx="734.5" cy="995.9" r="6.15"/><circle cx="777.1" cy="991.2" r="6.15"/><circle cx="778.3" cy="996.5" r="6.15"/><circle cx="809.1" cy="979.3" r="6.15"/><circle cx="800.8" cy="1005.4" r="6.15"/><circle cx="768.8" cy="1014.8" r="6.15"/><circle cx="816.2" cy="1019" r="6.15"/><circle cx="844.6" cy="984.1" r="6.15"/></g>
<line x1="729" y1="1020.8" x2="1257.4" y2="672.9" stroke="#7020e0" stroke-width="1.9"/>
<g fill="#f012f0" stroke="#000" stroke-width="2.1"><circle cx="860.2" cy="804.1" r="6.15"/><circle cx="1001.4" cy="691.8" r="6.15"/><circle cx="932.2" cy="714.9" r="6.15"/><circle cx="929.2" cy="771.7" r="6.15"/><circle cx="997.9" cy="776.5" r="6.15"/><circle cx="996.1" cy="792.5" r="6.15"/><circle cx="938.1" cy="803.7" r="6.15"/><circle cx="995.5" cy="804.3" r="6.15"/><circle cx="1003.8" cy="804.3" r="6.15"/><circle cx="1010.9" cy="803.7" r="6.15"/><circle cx="1128.6" cy="727.4" r="6.15"/><circle cx="1126.9" cy="730.9" r="6.15"/><circle cx="1114.4" cy="741.6" r="6.15"/><circle cx="1096.7" cy="757.5" r="6.15"/><circle cx="1088.4" cy="764.6" r="6.15"/><circle cx="1077.2" cy="775.9" r="6.15"/><circle cx="1051.1" cy="803.7" r="6.15"/><circle cx="1043.4" cy="806.7" r="6.15"/><circle cx="1031" cy="804.9" r="6.15"/><circle cx="1023.3" cy="803.7" r="6.15"/><circle cx="792.5" cy="831.6" r="6.15"/><circle cx="809.6" cy="848.7" r="6.15"/><circle cx="851.7" cy="836.3" r="6.15"/><circle cx="845.8" cy="890.8" r="6.15"/><circle cx="837.5" cy="897.3" r="6.15"/><circle cx="858.2" cy="902.6" r="6.15"/><circle cx="861.1" cy="919.8" r="6.15"/><circle cx="903.1" cy="839.9" r="6.15"/><circle cx="926.2" cy="829.2" r="6.15"/><circle cx="938.1" cy="857.6" r="6.15"/><circle cx="958.2" cy="829.8" r="6.15"/><circle cx="971.8" cy="873" r="6.15"/><circle cx="947.5" cy="896.1" r="6.15"/><circle cx="919.7" cy="892" r="6.15"/><circle cx="936.9" cy="906.2" r="6.15"/><circle cx="929.8" cy="913.9" r="6.15"/><circle cx="919.7" cy="922.7" r="6.15"/><circle cx="905.5" cy="935.8" r="6.15"/><circle cx="1016.8" cy="831.6" r="6.15"/><circle cx="1005.5" cy="842.2" r="6.15"/><circle cx="991.3" cy="844.6" r="6.15"/><circle cx="999" cy="848.1" r="6.15"/><circle cx="990.8" cy="855.3" r="6.15"/><circle cx="1025.7" cy="823.3" r="6.15"/><circle cx="800.8" cy="959.2" r="6.15"/><circle cx="842.8" cy="957.4" r="6.15"/><circle cx="839.2" cy="969.3" r="6.15"/><circle cx="870.6" cy="965.1" r="6.15"/><circle cx="868.8" cy="971.6" r="6.15"/><circle cx="816.2" cy="985.8" r="6.15"/><circle cx="800.2" cy="997.1" r="6.15"/><circle cx="809.1" cy="1025.5" r="6.15"/><circle cx="792.5" cy="1041.5" r="6.15"/><circle cx="777.1" cy="1055.1" r="6.15"/><circle cx="768.8" cy="1062.2" r="6.15"/><circle cx="734.5" cy="1094.8" r="6.15"/><circle cx="845.8" cy="991.2" r="6.15"/><circle cx="838.6" cy="995.9" r="6.15"/><circle cx="832.7" cy="1003.6" r="6.15"/><circle cx="859.4" cy="979.3" r="6.15"/></g>
<line x1="729" y1="1042.1" x2="1257.4" y2="612.1" stroke="#f010f0" stroke-width="1.9"/>
<rect x="1140.3" y="972.5" width="104.3" height="115.4" fill="#fff" stroke="#000" stroke-width="2"/>
<circle cx="1171.1" cy="993.1" r="4.7" fill="#22e4dc" stroke="#000" stroke-width="1.7"/>
<text x="1199.4" y="998.7" font-size="16.6" fill="#111" stroke="#111" stroke-width="0.3">0.1</text>
<circle cx="1171.1" cy="1012" r="4.7" fill="#2a80ec" stroke="#000" stroke-width="1.7"/>
<text x="1199.4" y="1017.6" font-size="16.6" fill="#111" stroke="#111" stroke-width="0.3">0.25</text>
<circle cx="1171.1" cy="1031" r="4.7" fill="#1010e8" stroke="#000" stroke-width="1.7"/>
<text x="1199.4" y="1036.6" font-size="16.6" fill="#111" stroke="#111" stroke-width="0.3">0.5</text>
<circle cx="1171.1" cy="1049.2" r="4.7" fill="#7a1ee6" stroke="#000" stroke-width="1.7"/>
<text x="1199.4" y="1054.8" font-size="16.6" fill="#111" stroke="#111" stroke-width="0.3">0.75</text>
<circle cx="1171.1" cy="1067.3" r="4.7" fill="#f012f0" stroke="#000" stroke-width="1.7"/>
<text x="1199.4" y="1072.9" font-size="16.6" fill="#111" stroke="#111" stroke-width="0.3">0.9</text>
<text x="1014.5" y="638.8" font-size="19.5" textLength="176.9" lengthAdjust="spacingAndGlyphs" fill="#111">y = 0.650x + 58.519</text>
<text x="1068.8" y="661.1" font-size="19.5" textLength="88.5" lengthAdjust="spacingAndGlyphs" fill="#111">R<tspan font-size="11.3" dy="-5.5">2</tspan><tspan dy="5.5"> = 0.541</tspan></text>
<line x1="1110.4" y1="662.2" x2="1110.4" y2="767" stroke="#111" stroke-width="2.2" stroke-dasharray="13.2 9.9"/>
<text x="895.5" y="748.7" font-size="20.5" textLength="175.1" lengthAdjust="spacingAndGlyphs" fill="#111">y = 0.628x + 69.343</text>
<text x="938" y="769.4" font-size="20.5" textLength="87" lengthAdjust="spacingAndGlyphs" fill="#111">R<tspan font-size="11.9" dy="-5.7">2</tspan><tspan dy="5.7"> = 0.434</tspan></text>
<line x1="978.3" y1="769.1" x2="978.3" y2="836.5" stroke="#111" stroke-width="2.2" stroke-dasharray="12.2 7.1"/>
<text x="1068.8" y="885.5" font-size="19" textLength="178" lengthAdjust="spacingAndGlyphs" fill="#111">y = 0.583x + 26.756</text>
<text x="1130.6" y="906.8" font-size="19" textLength="89.6" lengthAdjust="spacingAndGlyphs" fill="#111">R<tspan font-size="11" dy="-5.3">2</tspan><tspan dy="5.3"> = 0.662</tspan></text>
<line x1="1169.5" y1="791.9" x2="1169.5" y2="870.3" stroke="#111" stroke-width="2.2" stroke-dasharray="13.8 7.7"/>
<line x1="1065.5" y1="854.6" x2="1066.8" y2="946" stroke="#111" stroke-width="2.2" stroke-dasharray="11.8 7.4"/>
<text x="1002.8" y="945.8" font-size="19" textLength="176.9" lengthAdjust="spacingAndGlyphs" fill="#111">y = 0.765x + 58.219</text>
<text x="1019.8" y="968.6" font-size="19" textLength="88.5" lengthAdjust="spacingAndGlyphs" fill="#111">R<tspan font-size="11" dy="-5.3">2</tspan><tspan dy="5.3"> = 0.518</tspan></text>
<line x1="949.5" y1="909.9" x2="952.2" y2="1049.2" stroke="#111" stroke-width="2.2" stroke-dasharray="16 9"/>
<text x="895.5" y="1064.5" font-size="19.5" textLength="175.7" lengthAdjust="spacingAndGlyphs" fill="#111">y = 0.790x + 20.683</text>
<text x="920.9" y="1082.9" font-size="19.5" textLength="89.4" lengthAdjust="spacingAndGlyphs" fill="#111">R<tspan font-size="11.3" dy="-5.5">2</tspan><tspan dy="5.5"> = 0.713</tspan></text>
<rect x="729" y="610.3" width="528.4" height="491.3" fill="none" stroke="#000" stroke-width="2.2"/>
<path d="M721 1101.6H729M729 1101.6V1110.6M721 1036.1H729M799.5 1101.6V1110.6M721 970.5H729M870 1101.6V1110.6M721 905H729M940.4 1101.6V1110.6M721 839.4H729M1010.9 1101.6V1110.6M721 773.9H729M1081.4 1101.6V1110.6M721 708.3H729M1151.9 1101.6V1110.6M721 642.8H729M1222.4 1101.6V1110.6" stroke="#000" stroke-width="2.2" fill="none"/>
<g font-family='"Liberation Sans", sans-serif' font-size="22.4" fill="#111" stroke="#111" stroke-width="0.35"><text x="708.5" y="1109.2" text-anchor="end">0</text><text x="729" y="1141.2" text-anchor="middle">0</text><text x="708.5" y="1043.7" text-anchor="end">40</text><text x="799.5" y="1141.2" text-anchor="middle">40</text><text x="708.5" y="978.1" text-anchor="end">80</text><text x="870" y="1141.2" text-anchor="middle">80</text><text x="708.5" y="912.6" text-anchor="end">120</text><text x="940.4" y="1141.2" text-anchor="middle">120</text><text x="708.5" y="847" text-anchor="end">160</text><text x="1010.9" y="1141.2" text-anchor="middle">160</text><text x="708.5" y="781.5" text-anchor="end">200</text><text x="1081.4" y="1141.2" text-anchor="middle">200</text><text x="708.5" y="715.9" text-anchor="end">240</text><text x="1151.9" y="1141.2" text-anchor="middle">240</text><text x="708.5" y="650.4" text-anchor="end">280</text><text x="1222.4" y="1141.2" text-anchor="middle">280</text></g>
<line x1="116.8" y1="1684.7" x2="585.2" y2="1193" stroke="#000" stroke-width="1.8"/>
<g fill="#000"><circle cx="104.6" cy="1678.3" r="7.35"/><circle cx="162.1" cy="1683.7" r="7.35"/><circle cx="139.8" cy="1639.6" r="7.35"/><circle cx="147.2" cy="1624" r="7.35"/><circle cx="161.1" cy="1624.6" r="7.35"/><circle cx="170.7" cy="1610.2" r="7.35"/><circle cx="178.1" cy="1612.3" r="7.35"/><circle cx="185.6" cy="1607" r="7.35"/><circle cx="178.1" cy="1624" r="7.35"/><circle cx="174.9" cy="1637.4" r="7.35"/><circle cx="170.7" cy="1617.6" r="7.35"/><circle cx="179.2" cy="1587.8" r="7.35"/><circle cx="179.2" cy="1570.3" r="7.35"/><circle cx="207.9" cy="1581.4" r="7.35"/><circle cx="214.3" cy="1575" r="7.35"/><circle cx="221.8" cy="1569.7" r="7.35"/><circle cx="227.1" cy="1563.3" r="7.35"/><circle cx="229.7" cy="1591" r="7.35"/><circle cx="214.3" cy="1611.2" r="7.35"/><circle cx="213.3" cy="1616.5" r="7.35"/><circle cx="202.6" cy="1629.3" r="7.35"/><circle cx="200.5" cy="1636.8" r="7.35"/><circle cx="211.1" cy="1646.4" r="7.35"/><circle cx="212.2" cy="1652.8" r="7.35"/><circle cx="230.3" cy="1645.3" r="7.35"/><circle cx="228.2" cy="1653.8" r="7.35"/><circle cx="236.7" cy="1621.9" r="7.35"/><circle cx="241" cy="1506.2" r="7.35"/><circle cx="296.4" cy="1559.4" r="7.35"/><circle cx="290" cy="1424.3" r="7.35"/><circle cx="308.1" cy="1416.2" r="7.35"/><circle cx="300.6" cy="1433.3" r="7.35"/><circle cx="306" cy="1436.5" r="7.35"/><circle cx="307" cy="1445" r="7.35"/><circle cx="317.7" cy="1440.3" r="7.35"/><circle cx="274" cy="1468.4" r="7.35"/><circle cx="288.9" cy="1467.4" r="7.35"/><circle cx="286.8" cy="1477" r="7.35"/><circle cx="307" cy="1475.9" r="7.35"/><circle cx="328.4" cy="1470.6" r="7.35"/><circle cx="446.9" cy="1311" r="7.35"/><circle cx="499.5" cy="1311" r="7.35"/><circle cx="484.2" cy="1324.7" r="7.35"/><circle cx="462.9" cy="1343" r="7.35"/><circle cx="457.5" cy="1347.7" r="7.35"/><circle cx="467.1" cy="1354.5" r="7.35"/><circle cx="497" cy="1354.5" r="7.35"/><circle cx="396.4" cy="1328.1" r="7.35"/><circle cx="386.6" cy="1331.7" r="7.35"/><circle cx="380.2" cy="1350.3" r="7.35"/><circle cx="395.7" cy="1364.7" r="7.35"/><circle cx="420.7" cy="1358.4" r="7.35"/><circle cx="412.8" cy="1369.4" r="7.35"/><circle cx="387.2" cy="1377.5" r="7.35"/><circle cx="371.7" cy="1389.3" r="7.35"/><circle cx="416" cy="1388.2" r="7.35"/><circle cx="368" cy="1405.2" r="7.35"/><circle cx="365.9" cy="1417" r="7.35"/><circle cx="401.1" cy="1404.2" r="7.35"/><circle cx="340.3" cy="1422.3" r="7.35"/><circle cx="375.5" cy="1426.5" r="7.35"/><circle cx="361.6" cy="1430.8" r="7.35"/><circle cx="367" cy="1435.1" r="7.35"/><circle cx="360.6" cy="1440.4" r="7.35"/><circle cx="375.9" cy="1460.6" r="7.35"/><circle cx="343.5" cy="1485.1" r="7.35"/></g>
<text x="326" y="1519.4" font-size="28" textLength="236.5" lengthAdjust="spacingAndGlyphs" fill="#111">y = 0.954x + 7.999</text>
<text x="380.3" y="1555.7" font-size="28" textLength="127.9" lengthAdjust="spacingAndGlyphs" fill="#111">R<tspan font-size="16.2" dy="-7.8">2</tspan><tspan dy="7.8"> = 0.808</tspan></text>
<rect x="97.7" y="1193" width="529.3" height="492.1" fill="none" stroke="#000" stroke-width="2.2"/>
<path d="M89.7 1685.1H97.7M97.7 1685.1V1694.1M89.7 1619.6H97.7M168.2 1685.1V1694.1M89.7 1554H97.7M238.7 1685.1V1694.1M89.7 1488.5H97.7M309.1 1685.1V1694.1M89.7 1422.9H97.7M379.6 1685.1V1694.1M89.7 1357.4H97.7M450.1 1685.1V1694.1M89.7 1291.8H97.7M520.6 1685.1V1694.1M89.7 1226.3H97.7M591.1 1685.1V1694.1" stroke="#000" stroke-width="2.2" fill="none"/>
<g font-family='"Liberation Sans", sans-serif' font-size="22.4" fill="#111" stroke="#111" stroke-width="0.35"><text x="77.2" y="1692.7" text-anchor="end">0</text><text x="97.7" y="1724.7" text-anchor="middle">0</text><text x="77.2" y="1627.2" text-anchor="end">40</text><text x="168.2" y="1724.7" text-anchor="middle">40</text><text x="77.2" y="1561.6" text-anchor="end">80</text><text x="238.7" y="1724.7" text-anchor="middle">80</text><text x="77.2" y="1496.1" text-anchor="end">120</text><text x="309.1" y="1724.7" text-anchor="middle">120</text><text x="77.2" y="1430.5" text-anchor="end">160</text><text x="379.6" y="1724.7" text-anchor="middle">160</text><text x="77.2" y="1365" text-anchor="end">200</text><text x="450.1" y="1724.7" text-anchor="middle">200</text><text x="77.2" y="1299.4" text-anchor="end">240</text><text x="520.6" y="1724.7" text-anchor="middle">240</text><text x="77.2" y="1233.9" text-anchor="end">280</text><text x="591.1" y="1724.7" text-anchor="middle">280</text></g>
<line x1="729.6" y1="1667.7" x2="1253.5" y2="1193" stroke="#000" stroke-width="1.8"/>
<g fill="#000"><circle cx="734.6" cy="1678.3" r="7.35"/><circle cx="769.8" cy="1617" r="7.35"/><circle cx="778.7" cy="1638.9" r="7.35"/><circle cx="793.2" cy="1625.1" r="7.35"/><circle cx="800.7" cy="1617.6" r="7.35"/><circle cx="807" cy="1611.2" r="7.35"/><circle cx="803.8" cy="1614.4" r="7.35"/><circle cx="801.7" cy="1576.1" r="7.35"/><circle cx="808.1" cy="1575" r="7.35"/><circle cx="811.3" cy="1580.3" r="7.35"/><circle cx="817.7" cy="1581.4" r="7.35"/><circle cx="810.2" cy="1536.6" r="7.35"/><circle cx="833.7" cy="1556.9" r="7.35"/><circle cx="831.6" cy="1588.8" r="7.35"/><circle cx="840.1" cy="1578.2" r="7.35"/><circle cx="846.5" cy="1568.6" r="7.35"/><circle cx="845.4" cy="1575" r="7.35"/><circle cx="852.4" cy="1536.6" r="7.35"/><circle cx="860.3" cy="1562.2" r="7.35"/><circle cx="858.2" cy="1580.3" r="7.35"/><circle cx="862.5" cy="1572.9" r="7.35"/><circle cx="868.8" cy="1581.4" r="7.35"/><circle cx="872" cy="1551.5" r="7.35"/><circle cx="905.1" cy="1521.1" r="7.35"/><circle cx="906.1" cy="1499.3" r="7.35"/><circle cx="921.1" cy="1473.8" r="7.35"/><circle cx="930.6" cy="1496.1" r="7.35"/><circle cx="938.1" cy="1489.7" r="7.35"/><circle cx="948.8" cy="1481.2" r="7.35"/><circle cx="920" cy="1419.4" r="7.35"/><circle cx="931.7" cy="1416.2" r="7.35"/><circle cx="933.8" cy="1415.2" r="7.35"/><circle cx="917.9" cy="1434.3" r="7.35"/><circle cx="927.4" cy="1434.3" r="7.35"/><circle cx="959.4" cy="1423.7" r="7.35"/><circle cx="959.4" cy="1434.3" r="7.35"/><circle cx="971.1" cy="1416.2" r="7.35"/><circle cx="974.3" cy="1434.3" r="7.35"/><circle cx="991.4" cy="1416.2" r="7.35"/><circle cx="991.4" cy="1437.5" r="7.35"/><circle cx="1131.5" cy="1308.7" r="7.35"/><circle cx="1128" cy="1314.6" r="7.35"/><circle cx="1115.9" cy="1325" r="7.35"/><circle cx="1097.7" cy="1341.3" r="7.35"/><circle cx="1090.7" cy="1348.3" r="7.35"/><circle cx="1077.9" cy="1360" r="7.35"/><circle cx="1011.6" cy="1387.9" r="7.35"/><circle cx="1026.7" cy="1387.9" r="7.35"/><circle cx="1033.7" cy="1389.1" r="7.35"/><circle cx="1044.2" cy="1390.2" r="7.35"/><circle cx="1053.5" cy="1387.9" r="7.35"/><circle cx="1046.5" cy="1385.6" r="7.35"/><circle cx="1026.7" cy="1407.7" r="7.35"/><circle cx="1018.6" cy="1415.9" r="7.35"/><circle cx="1001.1" cy="1415.9" r="7.35"/><circle cx="1006.9" cy="1425.2" r="7.35"/><circle cx="1005.7" cy="1433.3" r="7.35"/><circle cx="998.8" cy="1432.1" r="7.35"/></g>
<text x="979.2" y="1494.1" font-size="29" textLength="219.5" lengthAdjust="spacingAndGlyphs" fill="#111">y = 1.00x + 5.747</text>
<text x="1016.5" y="1533.5" font-size="29" textLength="127.8" lengthAdjust="spacingAndGlyphs" fill="#111">R<tspan font-size="16.8" dy="-8.1">2</tspan><tspan dy="8.1"> = 0.885</tspan></text>
<rect x="729.6" y="1193" width="527.6" height="492.1" fill="none" stroke="#000" stroke-width="2.2"/>
<path d="M721.6 1685.1H729.6M729.6 1685.1V1694.1M721.6 1619.6H729.6M800.1 1685.1V1694.1M721.6 1554H729.6M870.6 1685.1V1694.1M721.6 1488.5H729.6M941 1685.1V1694.1M721.6 1422.9H729.6M1011.5 1685.1V1694.1M721.6 1357.4H729.6M1082 1685.1V1694.1M721.6 1291.8H729.6M1152.5 1685.1V1694.1M721.6 1226.3H729.6M1223 1685.1V1694.1" stroke="#000" stroke-width="2.2" fill="none"/>
<g font-family='"Liberation Sans", sans-serif' font-size="22.4" fill="#111" stroke="#111" stroke-width="0.35"><text x="709.1" y="1692.7" text-anchor="end">0</text><text x="729.6" y="1724.7" text-anchor="middle">0</text><text x="709.1" y="1627.2" text-anchor="end">40</text><text x="800.1" y="1724.7" text-anchor="middle">40</text><text x="709.1" y="1561.6" text-anchor="end">80</text><text x="870.6" y="1724.7" text-anchor="middle">80</text><text x="709.1" y="1496.1" text-anchor="end">120</text><text x="941" y="1724.7" text-anchor="middle">120</text><text x="709.1" y="1430.5" text-anchor="end">160</text><text x="1011.5" y="1724.7" text-anchor="middle">160</text><text x="709.1" y="1365" text-anchor="end">200</text><text x="1082" y="1724.7" text-anchor="middle">200</text><text x="709.1" y="1299.4" text-anchor="end">240</text><text x="1152.5" y="1724.7" text-anchor="middle">240</text><text x="709.1" y="1233.9" text-anchor="end">280</text><text x="1223" y="1724.7" text-anchor="middle">280</text></g>
</svg>
</body></html>
